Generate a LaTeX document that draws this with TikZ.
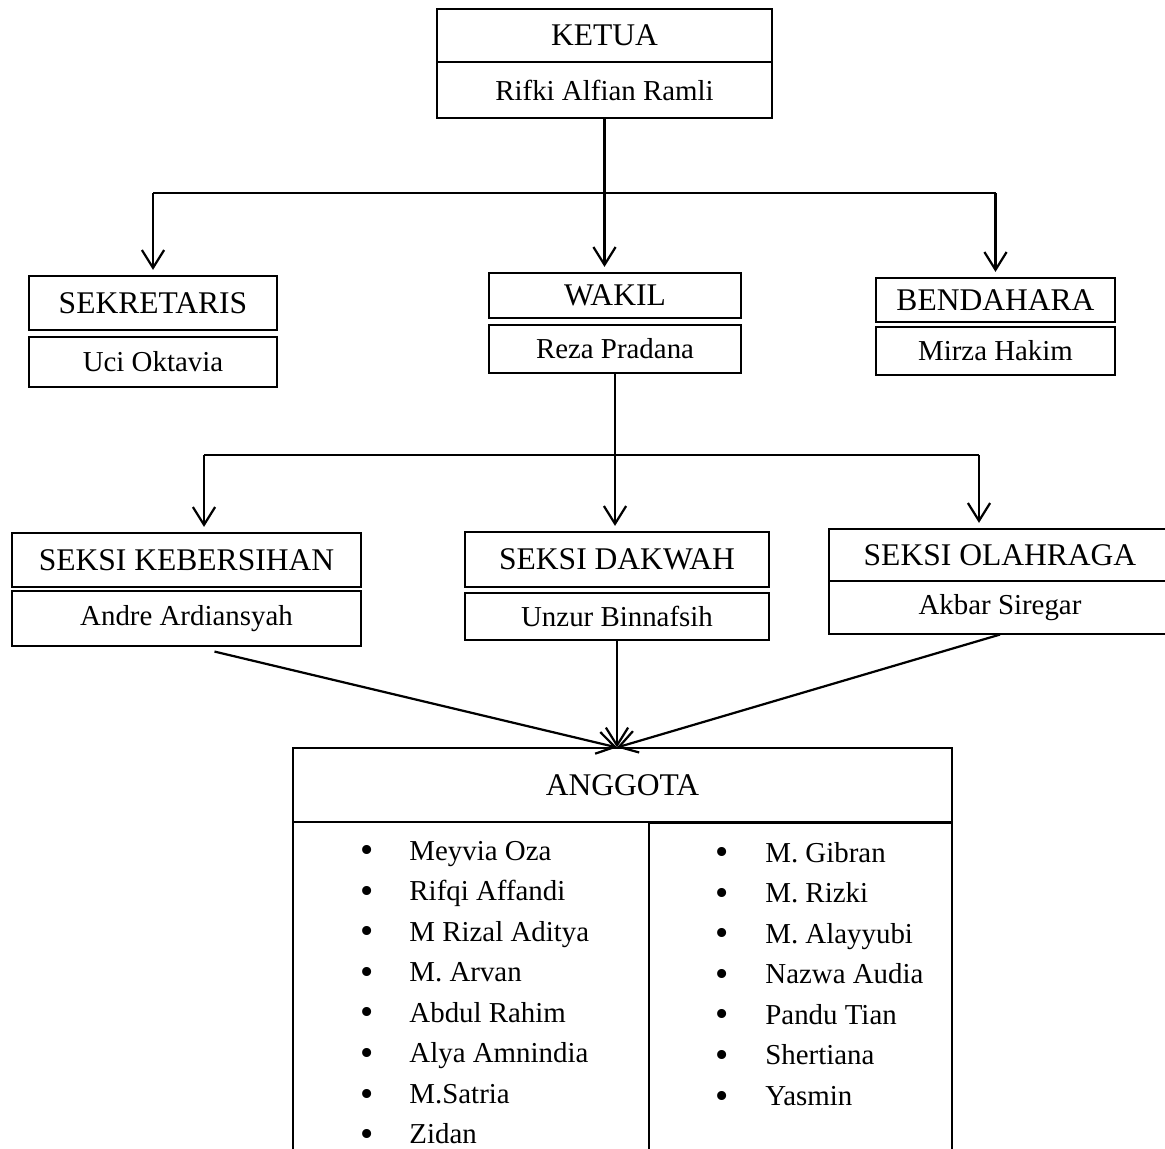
\documentclass[tikz,border=0pt]{standalone}
\usepackage{fontspec}
\setmainfont{Liberation Serif}
\usetikzlibrary{arrows.meta,calc}

\newcommand{\butir}{\raisebox{-1.2pt}{\fontsize{17}{17}\selectfont\textbullet}}

\tikzset{
  box/.style 2 args={draw, line width=0.5pt, inner sep=0pt,
    minimum width=#1*0.45pt, minimum height=#2*0.45pt},
  jabatan/.style={font=\fontsize{14.2}{17}\selectfont},
  nama/.style={font=\fontsize{13}{15.6}\selectfont},
  daftar/.style={font=\fontsize{13}{18.25}\selectfont, inner sep=0pt, anchor=base west},
  garis/.style={line width=1pt},
  panah/.style={->, line width=1pt, shorten >=2.5pt},
}

\begin{document}
\begin{tikzpicture}[x=0.45pt, y=-0.45pt, >={Straight Barb[length=8pt,width=10pt]}]
    \useasboundingbox (0,0) rectangle (1165,1148);
    % Ketua
    \node[box={335}{53}, jabatan] (ketua) at (604.5,35.5) {KETUA};
    \node[box={335}{56}, nama] (ketuaNama) at (604.5,90) {Rifki Alfian Ramli};
    % Sekretaris, wakil, bendahara
    \node[box={248}{54}, jabatan] (sek) at (153,303) {SEKRETARIS};
    \node[box={248}{50}, nama] (sekNama) at (153,362) {Uci Oktavia};
    \node[box={252}{45}, jabatan] (wakil) at (615,295.5) {WAKIL};
    \node[box={252}{48}, nama] (wakilNama) at (615,349) {Reza Pradana};
    \node[box={239}{44}, jabatan] (bend) at (995.5,300) {BENDAHARA};
    \node[box={239}{48}, nama] (bendNama) at (995.5,351) {Mirza Hakim};
    % Seksi
    \node[box={349}{54}, jabatan] (kebersihan) at (186.5,560) {SEKSI KEBERSIHAN};
    \node[box={349}{55}, nama] (kebersihanNama) at (186.5,618.5) {Andre Ardiansyah};
    \node[box={304}{55}, jabatan] (dakwah) at (617,559.5) {SEKSI DAKWAH};
    \node[box={304}{47}, nama] (dakwahNama) at (617,616.5) {Unzur Binnafsih};
    \node[box={342}{52}, jabatan] (olahraga) at (1000,555) {SEKSI OLAHRAGA};
    \node[box={342}{53}, nama] (olahragaNama) at (1000,607.5) {Akbar Siregar};
    % Anggota
    \node[box={659}{74}, jabatan] (anggota) at (622.5,785) {ANGGOTA};
    \node[box={356}{358}] (kolomKiri) at (471,1001) {};
    \node[box={303}{357}] (kolomKanan) at (800.5,1001.5) {};
    \node[daftar] (daftarKiri) at (360,860) {\begin{tabular}[t]{@{}l@{\hspace{16.1pt}}l@{}}
        \butir & Meyvia Oza\\
        \butir & Rifqi Affandi\\
        \butir & M Rizal Aditya\\
        \butir & M. Arvan\\
        \butir & Abdul Rahim\\
        \butir & Alya Amnindia\\
        \butir & M.Satria\\
        \butir & Zidan
    \end{tabular}};
    \node[daftar] (daftarKanan) at (715.5,862) {\begin{tabular}[t]{@{}l@{\hspace{16.3pt}}l@{}}
        \butir & M. Gibran\\
        \butir & M. Rizki\\
        \butir & M. Alayyubi\\
        \butir & Nazwa Audia\\
        \butir & Pandu Tian\\
        \butir & Shertiana\\
        \butir & Yasmin
    \end{tabular}};
    % Garis dari ketua
    \coordinate (cabang1) at (604,193);
    \draw[garis] (sek.north |- cabang1) -- (bend.north |- cabang1);
    \draw[panah] (sek.north |- cabang1) -- (sek.north);
    \draw[panah] (ketuaNama.south) -- (ketuaNama.south |- wakil.north);
    \draw[panah] (bend.north |- cabang1) -- (bend.north);
    % Garis dari wakil
    \coordinate (cabang2kiri) at (204,455);
    \coordinate (cabang2kanan) at (979,455);
    \draw[garis] (cabang2kiri) -- (cabang2kanan);
    \draw[panah] (cabang2kiri) -- (cabang2kiri |- kebersihan.north);
    \draw[panah] (wakilNama.south) -- (wakilNama.south |- dakwah.north);
    \draw[panah] (cabang2kanan) -- (cabang2kanan |- olahraga.north);
    % Garis menuju anggota
    \coordinate (temu) at (dakwahNama.south |- anggota.north);
    \draw[panah, shorten >=0pt] ($(kebersihanNama.south)+(28,5)$) -- (temu);
    \draw[panah, shorten >=0pt] (dakwahNama.south) -- (temu);
    \draw[panah, shorten >=0pt] (olahragaNama.south) -- (temu);
\end{tikzpicture}
\end{document}
